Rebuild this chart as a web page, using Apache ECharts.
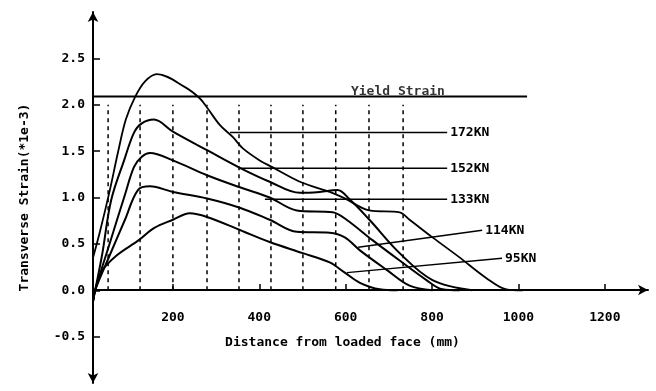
<!DOCTYPE html>
<html><head><meta charset="utf-8">
<script src="https://cdn.jsdelivr.net/npm/echarts@6/dist/echarts.min.js"></script>
<style>html,body{margin:0;padding:0;background:#fff}#c{width:656px;height:391px}</style>
</head><body><div id="c"></div>
<script>
// ---- data ----
const loadNames = ['172KN', '152KN', '133KN', '114KN', '95KN'];

const x172 = [15, 31, 54, 73, 91, 112, 135, 163, 228, 262, 279, 309, 339, 362, 401, 429, 494, 563, 598, 655, 725, 748, 801, 862, 926, 972, 1010];
const y172 = [0.35, 0.63, 1.08, 1.49, 1.84, 2.08, 2.25, 2.33, 2.19, 2.07, 1.97, 1.78, 1.65, 1.53, 1.40, 1.33, 1.17, 1.06, 0.99, 0.86, 0.84, 0.76, 0.57, 0.36, 0.13, 0.01, 0];

const x152 = [15, 20, 36, 57, 87, 110, 128, 156, 200, 279, 355, 424, 494, 540, 581, 609, 655, 725, 801, 893];
const y152 = [-0.12, 0, 0.38, 0.97, 1.40, 1.70, 1.80, 1.84, 1.71, 1.51, 1.32, 1.17, 1.05, 1.06, 1.08, 0.98, 0.76, 0.40, 0.11, 0];

const x133 = [15, 20, 54, 89, 110, 128, 147, 200, 279, 355, 424, 487, 570, 602, 662, 725, 787, 824, 864];
const y133 = [-0.12, 0, 0.51, 1.03, 1.33, 1.44, 1.48, 1.40, 1.24, 1.11, 1.00, 0.86, 0.84, 0.76, 0.54, 0.32, 0.11, 0.01, 0];

const x114 = [15, 20, 54, 89, 119, 147, 200, 279, 355, 424, 487, 563, 598, 633, 695, 748, 801];
const y114 = [-0.12, 0, 0.38, 0.76, 1.08, 1.12, 1.06, 0.99, 0.89, 0.76, 0.63, 0.62, 0.57, 0.43, 0.22, 0.05, 0];

const x95 = [15, 20, 36, 71, 121, 156, 200, 239, 279, 355, 424, 501, 563, 598, 633, 679, 720];
const y95 = [-0.12, 0, 0.21, 0.38, 0.54, 0.67, 0.76, 0.83, 0.79, 0.65, 0.52, 0.40, 0.30, 0.19, 0.08, 0.01, 0];

const gaugeX = [50, 124, 200, 279, 353, 427, 501, 577, 654, 733];
const gaugeTop = 2.0;

const yieldStrain = 2.09;
const yieldX = [15, 1020];
const yieldLabelX = 721;

// leader lines for the load labels
const leaderStartX = [332, 355, 413];
const leaderY = [1.70, 1.315, 0.98];
const leaderEndX = 835;
const slant114 = [[629, 0.464], [916, 0.647]];
const slant95 = [[603, 0.19], [962, 0.345]];

const xTicks = [200, 400, 600, 800, 1000, 1200];
const yTicks = [-0.5, 0, 0.5, 1.0, 1.5, 2.0, 2.5];

// ---- chart ----
const FONT = 'DejaVu Sans Mono';
const txt = { fontFamily: FONT, fontWeight: 'bold', fontSize: 13, color: '#000' };
const zip = (xs, ys) => xs.map((x, i) => [x, ys[i]]);
const curves = [[x172, y172], [x152, y152], [x133, y133], [x114, y114], [x95, y95]];

const series = [];
curves.forEach(([xs, ys], i) => {
  series.push({
    name: loadNames[i], type: 'line', data: zip(xs, ys), symbol: 'none',
    smooth: 0.35, lineStyle: { color: '#000', width: i === 0 ? 1.8 : 2 }, silent: true
  });
});
gaugeX.forEach(g => {
  series.push({
    type: 'line', data: [[g, 0], [g, gaugeTop]], symbol: 'none', silent: true,
    lineStyle: { color: '#000', width: 1.5, type: [4, 4] }
  });
});
series.push({
  type: 'line', data: [[yieldX[0], yieldStrain], [yieldX[1], yieldStrain]], symbol: 'none', silent: true,
  lineStyle: { color: '#000', width: 2 }
});
series.push({
  type: 'scatter', data: [[yieldLabelX, yieldStrain]], symbolSize: 1, itemStyle: { color: 'rgba(0,0,0,0)' },
  silent: true,
  label: { show: true, position: 'top', distance: -2, formatter: 'Yield Strain', ...txt }
});
leaderStartX.forEach((sx, i) => {
  series.push({
    type: 'line', data: [[sx, leaderY[i]], [leaderEndX, leaderY[i]]], symbol: 'none', silent: true,
    lineStyle: { color: '#000', width: 1.5 },
    endLabel: { show: true, formatter: loadNames[i], distance: 3, ...txt }
  });
});
[[slant114, loadNames[3]], [slant95, loadNames[4]]].forEach(([pts, nm]) => {
  series.push({
    type: 'line', data: pts, symbol: 'none', silent: true,
    lineStyle: { color: '#000', width: 1.5 },
    endLabel: { show: true, formatter: nm, distance: 3, ...txt }
  });
});

const chart = echarts.init(document.getElementById('c'), null, { renderer: 'canvas' });
chart.setOption({
  animation: false,
  backgroundColor: '#fff',
  grid: [
    { left: 93, right: 8, top: 12, bottom: 8, containLabel: false, outerBoundsMode: 'none' },
    // second grid whose bottom edge sits on strain = 0, carrying the visible x axis
    { left: 93, right: 8, top: 12, bottom: 101, containLabel: false, outerBoundsMode: 'none' }
  ],
  xAxis: [
    { gridIndex: 0, type: 'value', min: 15, max: 1300, show: false },
    {
      gridIndex: 1, type: 'value', min: 15, max: 1300, position: 'bottom',
      name: 'Distance from loaded face (mm)', nameLocation: 'middle', nameGap: 46,
      nameTextStyle: { ...txt, padding: [0, 56, 0, 0] },
      axisLine: { onZero: false, lineStyle: { color: '#000', width: 2 }, symbol: ['none', 'arrow'], symbolSize: [8, 10] },
      axisTick: { show: true, inside: true, length: 6, customValues: xTicks, lineStyle: { color: '#000', width: 1.5 } },
      axisLabel: { customValues: xTicks, margin: 21, formatter: v => String(v), ...txt },
      splitLine: { show: false }
    }
  ],
  yAxis: [
    {
      gridIndex: 0, type: 'value', min: -1, max: 3,
      name: 'Transverse Strain(*1e-3)', nameLocation: 'middle', nameGap: 62, nameRotate: 90,
      nameTextStyle: { ...txt },
      axisLine: { onZero: false, lineStyle: { color: '#000', width: 2 }, symbol: ['arrow', 'arrow'], symbolSize: [8, 10] },
      axisTick: { show: true, inside: true, length: 7, customValues: yTicks, lineStyle: { color: '#000', width: 1.5 } },
      axisLabel: { customValues: yTicks, margin: 8, formatter: v => v.toFixed(1), ...txt },
      splitLine: { show: false }
    },
    { gridIndex: 1, type: 'value', min: 0, max: 3, show: false }
  ],
  series
});
</script>
</body></html>
